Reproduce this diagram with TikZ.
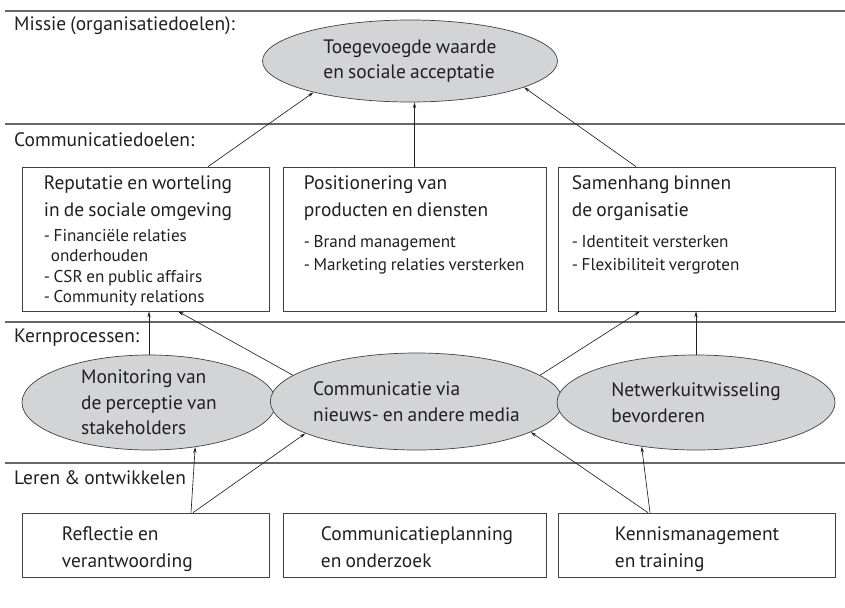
\documentclass[tikz,border=0pt]{standalone}
\usepackage{fontspec}
\setmainfont[WordSpace=0.8]{PT Sans}
\usepackage{tikz}
\usetikzlibrary{arrows.meta,positioning,calc,shapes.geometric}
\definecolor{inkdark}{RGB}{35,31,32}
\definecolor{procfill}{RGB}{211,212,214}
\newcommand{\mainsize}{\fontsize{16.6}{23}\selectfont}
\newcommand{\procsize}{\fontsize{16.6}{21.8}\selectfont}
\newcommand{\subsize}{\fontsize{14.6}{17.1}\selectfont}
\tikzset{
  %% layer separators and layer names
  layerline/.style={draw=black!60, line width=1pt},
  layername/.style={anchor=west, inner sep=0pt, font=\mainsize, text=inkdark},
  %% boxes for goals and learning
  goalbox/.style={draw=inkdark!85, line width=0.6pt, minimum height=4.32cm, inner sep=0pt},
  skillbox/.style={draw=inkdark!85, line width=0.6pt, minimum height=1.92cm, inner sep=0pt},
  boxtext/.style={anchor=north west, inner sep=0pt, align=left, font=\subsize, text=inkdark},
  %% grey process ellipses
  procell/.style={ellipse, draw=inkdark!85, fill=procfill, line width=0.6pt,
    inner sep=0pt, align=left, font=\procsize, text=inkdark},
  flow/.style={-{Stealth[length=5pt, width=2.8pt]}, line width=0.55pt, draw=inkdark},
}

\begin{document}
\begin{tikzpicture}[x=1cm, y=1cm]
\useasboundingbox (0,0) rectangle (25.35,-18.21);

\foreach \y in {0.33, 3.72, 9.66, 13.89}
  \draw[layerline] (0.15,-\y) -- (25.35,-\y);

\node[layername] (lmission) at (0.42,-0.78)  {Missie (organisatiedoelen):};
\node[layername] (lgoals)   at (0.42,-4.2)   {Communicatiedoelen:};
\node[layername] (lcore)    at (0.42,-10.14) {Kernprocessen:};
\node[layername] (llearn)   at (0.42,-14.34) {Leren \& ontwikkelen};

%% mission
\node[procell, minimum width=8.85cm, minimum height=2.46cm] (mission) at (12.3,-1.83)
  {Toegevoegde waarde\\en sociale acceptatie};

%% communication goals
\node[goalbox, minimum width=7.41cm, label={[boxtext, xshift=0.66cm, yshift=-0.27cm]north west:{%
  {\mainsize Reputatie en worteling}\\[5.9pt]%
  {\mainsize in de sociale omgeving}\\[4.2pt]%
  - Financiële relaties\\%
  \hspace*{6pt}onderhouden\\[0.8pt]%
  - CSR en public affairs\\%
  - Community relations}}] (repu) at (4.365,-7.17) {};
\node[goalbox, minimum width=7.89cm, label={[boxtext, xshift=0.63cm, yshift=-0.27cm]north west:{%
  {\mainsize Positionering van}\\[5.9pt]%
  {\mainsize producten en diensten}\\[9.4pt]%
  - Brand management\\[2.5pt]%
  - Marketing relaties versterken}}] (posit) at (12.435,-7.17) {};
\node[goalbox, minimum width=8.31cm, label={[boxtext, xshift=0.42cm, yshift=-0.27cm]north west:{%
  {\mainsize Samenhang binnen}\\[5.9pt]%
  {\mainsize de organisatie}\\[9.4pt]%
  - Identiteit versterken\\[2.5pt]%
  - Flexibiliteit vergroten}}] (cohes) at (20.895,-7.17) {};

%% core processes
\node[procell, minimum width=7.62cm, minimum height=2.85cm] (monit) at (4.47,-12.075)
  {Monitoring van\\de perceptie van\\stakeholders};
\node[procell, minimum width=8.01cm, minimum height=2.91cm] (media) at (12.495,-12.045)
  {Communicatie via\\nieuws- en andere media};
\node[procell, minimum width=8.34cm, minimum height=2.85cm] (netw) at (20.88,-12.075)
  {Netwerkuitwisseling\\bevorderen};

%% learning and development
\node[skillbox, minimum width=7.41cm, label={[boxtext, font=\mainsize, xshift=1.2cm, yshift=-0.42cm]north west:{%
  Reflectie en\\verantwoording}}] (refl) at (4.365,-16.35) {};
\node[skillbox, minimum width=7.89cm, label={[boxtext, font=\mainsize, xshift=1.14cm, yshift=-0.42cm]north west:{%
  Communicatieplanning\\en onderzoek}}] (plan) at (12.435,-16.35) {};
\node[skillbox, minimum width=8.31cm, label={[boxtext, font=\mainsize, xshift=1.71cm, yshift=-0.42cm]north west:{%
  Kennismanagement\\en training}}] (know) at (20.895,-16.35) {};

%% arrows upwards
\draw[flow] ([xshift=1.875cm]repu.north) -- (mission.198);
\draw[flow] (posit.north) -- (posit.north |- mission.south);
\draw[flow] ([xshift=-1.815cm]cohes.north) -- (mission.347);

\draw[flow] (monit.north) -- (monit.north |- repu.south);
\draw[flow] (media.168) -- ([xshift=0.975cm]repu.south);
\draw[flow] (media.12) -- ([xshift=-1.695cm]cohes.south);
\draw[flow] (netw.north) -- (netw.north |- cohes.south);

\draw[flow] ([xshift=1.365cm]refl.north) -- (monit.316);
\draw[flow] ([xshift=1.425cm]refl.north) -- (media.196);
\draw[flow] ([xshift=-1.455cm]know.north) -- (media.345);
\draw[flow] ([xshift=-1.395cm]know.north) -- (netw.219);

\end{tikzpicture}
\end{document}
